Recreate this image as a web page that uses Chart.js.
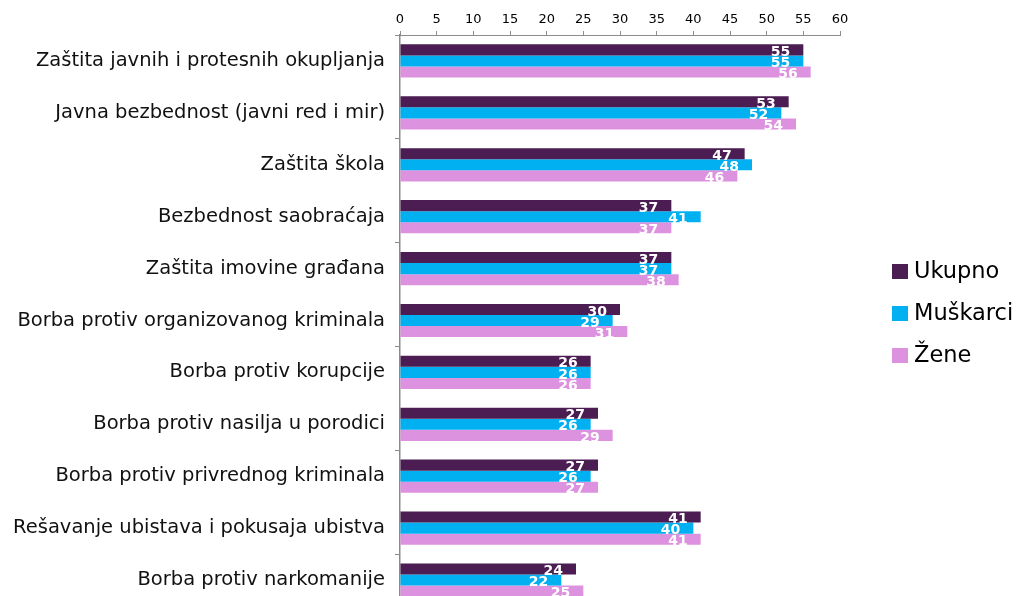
<!DOCTYPE html>
<html>
<head>
<meta charset="utf-8">
<script src="https://cdn.jsdelivr.net/npm/chart.js@4.4.1/dist/chart.umd.min.js"></script>
<style>
  html, body { margin: 0; padding: 0; background: #fff; overflow: hidden; }
  #wrap { position: relative; width: 1021px; height: 606px; }
</style>
</head>
<body>
<div id="wrap"><canvas id="chart"></canvas></div>
<script>
var categories = [
    "Zaštita javnih i protesnih okupljanja",
    "Javna bezbednost (javni red i mir)",
    "Zaštita škola",
    "Bezbednost saobraćaja",
    "Zaštita imovine građana",
    "Borba protiv organizovanog kriminala",
    "Borba protiv korupcije",
    "Borba protiv nasilja u porodici",
    "Borba protiv privrednog kriminala",
    "Rešavanje ubistava i pokusaja ubistva",
    "Borba protiv narkomanije"
];
var ukupno   = [55, 53, 47, 37, 37, 30, 26, 27, 27, 41, 24];
var muskarci = [55, 52, 48, 41, 37, 29, 26, 26, 26, 40, 22];
var zene     = [56, 54, 46, 37, 38, 31, 26, 29, 27, 41, 25];
var seriesNames = ["Ukupno", "Muškarci", "Žene"];
var seriesColors = ["#4B1D52", "#00B0F0", "#DD92E0"];
var xMin = 0, xMax = 60, xStep = 5;

var FONT = "'DejaVu Sans', Verdana, sans-serif";
var AXIS = "#8c8c8c";

// white value labels at the inner end of each bar
var barLabels = {
    id: "barLabels",
    afterDatasetsDraw: function (chart) {
        var ctx = chart.ctx;
        ctx.save();
        ctx.font = "bold 14px " + FONT;
        ctx.fillStyle = "#fff";
        ctx.textAlign = "right";
        ctx.textBaseline = "middle";
        chart.data.datasets.forEach(function (ds, i) {
            chart.getDatasetMeta(i).data.forEach(function (bar, j) {
                ctx.fillText(ds.data[j], bar.x - 13, bar.y + 2.5);
            });
        });
        ctx.restore();
    }
};

// legend on the right, stacked
var sideLegend = {
    id: "sideLegend",
    afterDraw: function (chart) {
        var ctx = chart.ctx;
        ctx.save();
        ctx.font = "22.5px " + FONT;
        ctx.textBaseline = "middle";
        chart.data.datasets.forEach(function (ds, i) {
            var y = 271 + i * 42;
            ctx.fillStyle = ds.backgroundColor;
            ctx.fillRect(892, y - 7, 16, 15);
            ctx.fillStyle = "#000";
            ctx.fillText(ds.label, 914, y + 1);
        });
        ctx.restore();
    }
};

var datasets = [ukupno, muskarci, zene].map(function (vals, i) {
    return {
        label: seriesNames[i],
        data: vals,
        backgroundColor: seriesColors[i],
        borderWidth: 0,
        categoryPercentage: 0.64,
        barPercentage: 1.0
    };
});

new Chart(document.getElementById("chart"), {
    type: "bar",
    data: { labels: categories, datasets: datasets },
    options: {
        indexAxis: "y",
        responsive: true,
        maintainAspectRatio: false,
        animation: false,
        layout: { padding: { left: 0, right: 181, top: 0, bottom: 0 } },
        plugins: {
            legend: { display: false },
            tooltip: { enabled: false }
        },
        scales: {
            x: {
                position: "top",
                min: xMin,
                max: xMax,
                ticks: { stepSize: xStep, color: "#000", padding: 4, font: { family: FONT, size: 13 } },
                grid: { drawOnChartArea: false, tickLength: 4, color: AXIS },
                border: { color: AXIS },
                afterFit: function (s) { s.height = 35; }
            },
            y: {
                ticks: { color: "#111", padding: 10, font: { family: FONT, size: 19.5 } },
                grid: {
                    drawOnChartArea: false,
                    offset: true,
                    tickLength: 5,
                    color: function (c) { return c.index % 2 === 0 ? AXIS : "rgba(0,0,0,0)"; }
                },
                border: { color: AXIS, width: 1.5 },
                afterFit: function (s) {
                    s.width = 400;
                    s.paddingTop = 0;
                    s.paddingBottom = 0;
                }
            }
        }
    },
    plugins: [barLabels, sideLegend]
});
</script>
</body>
</html>
